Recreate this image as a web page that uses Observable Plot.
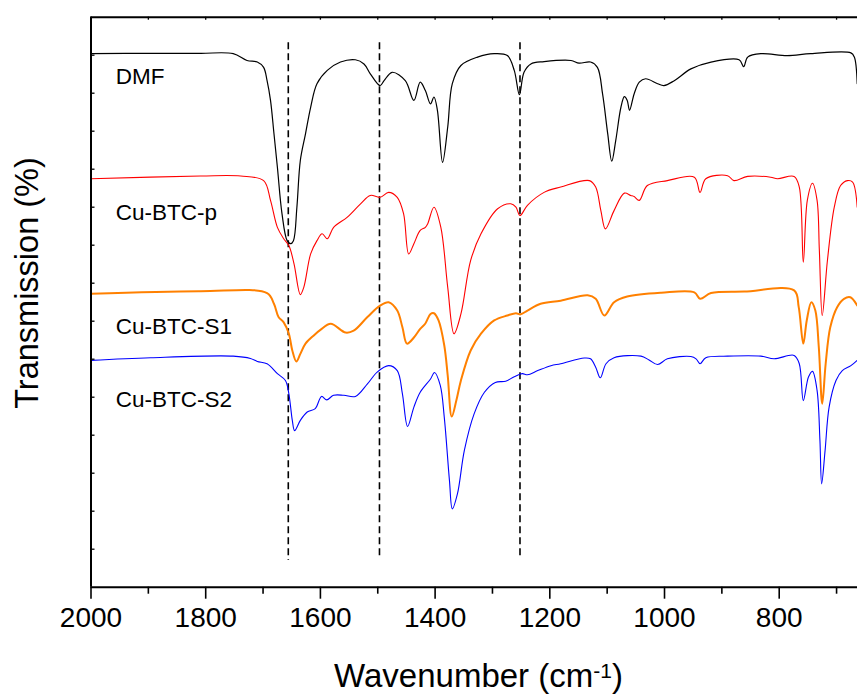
<!DOCTYPE html>
<html><head><meta charset="utf-8">
<script src="https://cdn.jsdelivr.net/npm/d3@7"></script>
<script src="https://cdn.jsdelivr.net/npm/@observablehq/plot@0.6"></script>
<style>
html,body{margin:0;padding:0;background:#fff;}
#chart{width:857px;height:695px;}
</style></head><body><div id="chart"></div>
<script>
// ---- Data (wavenumber in cm-1, offset transmission in arbitrary units) ----
const dmf = [[2000,140.4],[1896,140.5],[1809,140.5],[1752,140.4],[1728,138.6],[1710,138.2],[1699,136.8],[1693,133.3],[1687,128.1],[1681,119.4],[1675,110.5],[1667,98.3],[1658,91.2],[1652,90.4],[1647,91.2],[1641,100],[1635,112.3],[1626,119.3],[1617,126.3],[1606,132.5],[1588,136],[1565,138.2],[1539,138.8],[1524,137.7],[1513,135.1],[1496,132],[1489,133.3],[1475,135.5],[1452,133.3],[1437,128.1],[1426,132.9],[1417,130.7],[1408,127.2],[1402,129],[1396,125.5],[1387,111.8],[1378,121.1],[1370,132.5],[1355,137.3],[1326,139.5],[1297,140.4],[1274,139.9],[1262,136],[1253,129.6],[1245,135.5],[1233,137.7],[1210,138.3],[1163,138.6],[1149,137.9],[1129,138.2],[1117,136.8],[1108,129.8],[1099,119.3],[1092,112.1],[1085,117.6],[1076,126.3],[1070,129.1],[1065,128.1],[1061,125.5],[1053,129.8],[1044,132.9],[1033,133.8],[1012,132.5],[1001,132],[983,133.3],[954,136.4],[919,138.2],[870,138.8],[862,137],[855,139.5],[832,140.4],[786,139.9],[745,140.4],[675,140.6],[669,139.5],[664,132.5]];

const cuBtcP = [[2000,107.5],[1809,108.2],[1739,108.2],[1699,107],[1687,101.8],[1675,94.7],[1664,91.7],[1655,89.9],[1646,85.1],[1635,77],[1629,78.9],[1617,87.7],[1606,91.2],[1597,93],[1588,91.7],[1577,94.7],[1553,97.4],[1530,100.9],[1513,103.1],[1496,102.6],[1481,103.9],[1466,102.6],[1455,98.3],[1446,87.7],[1437,90.4],[1426,93.9],[1417,94.7],[1413,95.6],[1402,100],[1390,94.7],[1378,78.9],[1367,66.7],[1355,71.9],[1338,86],[1320,93],[1291,99.6],[1268,100.9],[1259,100],[1252,97.8],[1239,100.5],[1210,103.9],[1181,105.3],[1131,107],[1120,105.3],[1111,99.1],[1103,94.3],[1088,99.1],[1070,103.7],[1059,103.1],[1053,102.8],[1044,101.8],[1030,105.7],[995,107],[948,107.9],[938,103.9],[928,107.5],[890,108.3],[879,107],[855,108.1],[815,107.9],[803,107.5],[774,108.1],[765,105.3],[758,85.5],[751,101.8],[742,106.3],[734,101.8],[730,88.6],[725,71.5],[716,85.9],[704,100],[693,105.7],[681,107],[672,106.6],[664,100]];

const cuBtcS1 = [[2000,77.2],[1809,77.9],[1693,77.4],[1681,74.6],[1673,71.1],[1664,69.7],[1655,66.7],[1649,62.3],[1642,59.4],[1635,61.4],[1626,64.1],[1612,66.2],[1600,67.7],[1582,69.3],[1556,67],[1542,67.5],[1518,71.1],[1496,74.1],[1481,75],[1466,72.8],[1457,68.4],[1449,64.1],[1437,65.7],[1426,68],[1417,69.4],[1408,71.9],[1402,72.1],[1394,70.2],[1384,63.6],[1378,55.7],[1371,44.9],[1363,49.1],[1355,54.4],[1338,62.3],[1320,66.7],[1297,70.2],[1274,71.5],[1259,72.1],[1251,71.8],[1239,72.8],[1216,74.6],[1181,75.4],[1134,76.8],[1120,75.9],[1105,71.5],[1088,75],[1065,76.5],[1006,77.5],[948,77.6],[938,75.9],[919,77.4],[861,77.8],[774,78.1],[766,73.7],[758,64.1],[752,70.2],[744,75],[737,72.8],[731,63.2],[725,48.3],[719,58.8],[711,68.4],[699,73.7],[687,75.9],[676,76.3],[664,74.1]];

const cuBtcS2 = [[2000,59.7],[1896,60.4],[1752,60.8],[1722,60.2],[1710,59.4],[1693,58.8],[1675,56.2],[1661,54.4],[1655,50.9],[1649,43.9],[1645,41.2],[1635,43.9],[1623,46.1],[1609,47],[1598,50.2],[1589,49.3],[1577,50.5],[1559,50.5],[1539,50.2],[1518,53.5],[1501,56.6],[1481,58.3],[1466,57],[1457,50.9],[1448,42.3],[1437,47.4],[1426,51.3],[1408,54.8],[1401,56.5],[1391,53.1],[1384,44.7],[1375,28.1],[1370,20.6],[1361,24.6],[1349,36],[1332,45.6],[1314,51.3],[1295,53.9],[1277,54.2],[1262,55.4],[1248,56.2],[1239,55.9],[1221,57],[1198,58.3],[1181,58.8],[1140,60.3],[1129,60.1],[1120,57.9],[1112,55.1],[1102,58.8],[1088,60.4],[1041,60.8],[1027,59.8],[1012,58.6],[995,60.1],[954,60.7],[945,60.1],[938,58.8],[928,60.4],[890,60.8],[832,60.8],[809,60.1],[774,61],[765,58.8],[758,49.1],[749,55.3],[742,56.8],[734,51.8],[729,38.6],[726,27.2],[720,36],[713,47.4],[701,54.4],[690,57],[675,58.3],[664,59.7]];

const seriesNames = ["DMF", "Cu-BTC-p", "Cu-BTC-S1", "Cu-BTC-S2"];
const labelWavenumber = [1957, 1957, 1957, 1957];
const labelLevel = [134.2, 98.5, 68.4, 49.4];

const markerWavenumber = [1656, 1497, 1252];
const markerTop = [143.3, 143.3, 143.3];
const markerBottom = [7, 8.3, 8.3];

const xMajorTicks = [2000, 1800, 1600, 1400, 1200, 1000, 800];
const xMinorTicks = [1900, 1700, 1500, 1300, 1100, 900, 700];
const xTopTicks = [2000,1900,1800,1700,1600,1500,1400,1300,1200,1100,1000,900,800,700];
const yTicks = [10,20,30,40,50,60,70,80,90,100,110,120,130,140];

const xTitle = "Wavenumber (cm-1)";
const yTitle = "Transmission (%)";

// ---- Layout / styles ----
const W = 857, H = 695, mL = 90.5, mR = 0, mT = 16.7, mB = 108.3;
const innerW = W - mL - mR, innerH = H - mT - mB;
const styles = [
  {color: "#000000", width: 1.2},
  {color: "#ff0000", width: 1.1},
  {color: "#ff8000", width: 2.0},
  {color: "#0000ff", width: 1.1}
];
const allSeries = [dmf, cuBtcP, cuBtcS1, cuBtcS2];

const lineMarks = allSeries.map((s, i) =>
  Plot.line(s.map(([wn, t]) => ({wn, t})), {
    x: "wn", y: "t", stroke: styles[i].color, strokeWidth: styles[i].width,
    curve: "catmull-rom", strokeLinejoin: "round"
  })
);

const labels = seriesNames.map((name, i) => ({name, wn: labelWavenumber[i], t: labelLevel[i]}));
const markers = markerWavenumber.map((wn, i) => ({wn, top: markerTop[i], bottom: markerBottom[i]}));

const chart = Plot.plot({
  width: W, height: H,
  marginLeft: mL, marginRight: mR, marginTop: mT, marginBottom: mB,
  style: {fontFamily: "'Liberation Sans', Arial, sans-serif", background: "#ffffff", color: "#000000", overflow: "visible"},
  x: {domain: [2000, 663.5], axis: null},
  y: {domain: [0, 150], axis: null},
  marks: [
    Plot.ruleX(markers, {x: "wn", y1: "top", y2: "bottom", stroke: "#000", strokeWidth: 1.6, strokeDasharray: "7,4"}),
    ...lineMarks,
    Plot.text(labels, {x: "wn", y: "t", text: "name", textAnchor: "start", lineAnchor: "middle", fontSize: 22.5, fill: "#000"}),
    Plot.axisX({ticks: xMajorTicks, anchor: "bottom", tickSize: 12, tickPadding: 8, strokeWidth: 1.6, fontSize: 28, label: null, tickFormat: d => String(d)}),
    Plot.axisX({ticks: xMinorTicks, anchor: "bottom", tickSize: 7, strokeWidth: 1.6, label: null, tickFormat: () => ""}),
    Plot.tickX(xTopTicks, {x: d => d, insetBottom: innerH - 3, strokeWidth: 1.3, stroke: "#000"}),
    Plot.tickY(yTicks, {y: d => d, insetRight: innerW - 4, strokeWidth: 1.3, stroke: "#000"}),
    Plot.ruleX([2000], {strokeWidth: 2, stroke: "#000"}),
    Plot.ruleY([0, 150], {strokeWidth: 2, stroke: "#000"}),
    Plot.text([yTitle], {text: d => d, frameAnchor: "left", textAnchor: "middle", rotate: -90, dx: -63, dy: -19.2, fontSize: 32.5, lineAnchor: "middle", fill: "#000"}),
    Plot.text([xTitle], {text: d => d, frameAnchor: "bottom", textAnchor: "middle", dx: 4.25, dy: 89.3, fontSize: 33, lineAnchor: "middle", fill: "#000"})
  ]
});

document.getElementById("chart").appendChild(chart);

// superscript for the x-axis title
d3.select(chart).selectAll("text").filter(function() { return this.textContent === xTitle; }).each(function() {
  const t = d3.select(this);
  t.text(null);
  t.append("tspan").text("Wavenumber (cm");
  t.append("tspan").attr("font-size", 21).attr("dy", -9).text("-1");
  t.append("tspan").attr("font-size", 33).attr("dy", 9).text(")");
});
</script>
</body></html>
